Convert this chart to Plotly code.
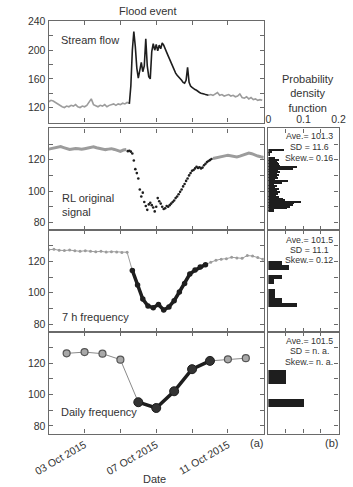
import plotly.graph_objects as go
import pandas as pd

W, H = 353, 487
START = pd.Timestamp("2015-10-01")

# ---------------- data ----------------
# Stream flow (panel 1): gray before event, black during event, gray after
flow_pre_start_h, flow_pre_step_h = 0, 3
flow_pre = [128, 130, 129, 127, 125, 122, 121, 120, 122, 121, 123, 122, 124, 121, 120, 122,
            121, 123, 127, 132, 124, 122, 121, 123, 122, 124, 121, 123, 124, 125, 123, 125,
            124, 126, 125, 127, 126]
flow_event_start_h, flow_event_step_h = 108, 2
flow_event = [125, 150, 200, 226, 205, 175, 161, 172, 183, 170, 178, 216, 178, 163, 160, 198,
              209, 200, 208, 199, 207, 202, 210, 207, 203, 197, 192, 187, 183, 179, 172, 168,
              165, 163, 160, 158, 155, 154, 158, 176, 155, 150, 148, 146, 145, 144, 142, 141,
              140, 140, 139, 138, 138, 137]
flow_post_start_h, flow_post_step_h = 214, 3
flow_post = [137, 138, 137, 139, 141, 137, 138, 136, 137, 138, 136, 137, 135, 136, 139, 134,
             133, 135, 132, 134, 131, 132, 130, 131, 130]

# RL original signal (panel 2)
rl_pre_start_h, rl_pre_step_h = 0, 4
rl_pre = [126.8, 127.2, 127.5, 128.0, 128.4, 127.8, 127.0, 126.6, 126.9, 127.2, 127.0, 126.7,
          127.1, 127.6, 128.1, 128.3, 127.7, 127.2, 126.9, 126.5, 126.8, 127.1, 126.6, 126.0,
          125.4, 126.2, 126.5]
rl_event_start_h, rl_event_step_h = 106, 2
rl_event = [125.5, 125.8, 125.2, 124.0, 119.5, 114.0, 111.5, 108.0, 101.0, 96.5, 99.0, 93.0,
            90.5, 88.0, 91.5, 92.5, 91.0, 89.5, 87.0, 90.0, 95.5, 93.5, 92.0, 90.0, 88.5, 89.0,
            90.5, 90.0, 91.0, 92.0, 93.0, 94.0, 95.5, 96.5, 98.0, 99.5, 101.0, 103.0, 104.5,
            106.5, 108.0, 110.0, 111.5, 113.0, 113.5, 114.5, 115.5, 114.8, 115.2, 114.5, 115.0,
            116.5, 117.5, 118.5, 119.2, 119.8, 120.5]
rl_post_start_h, rl_post_step_h = 220, 4
rl_post = [120.8, 121.3, 121.7, 122.0, 122.5, 122.8, 122.6, 122.2, 121.8, 122.3, 123.0, 123.8,
           124.3, 123.9, 123.0, 122.4, 121.9, 121.5]

# 7 h frequency (panel 3)
h7_step_h = 7
h7_values = [127.5, 127.8, 127.2, 127.0, 127.3, 126.8, 126.5, 126.9, 126.6, 126.2, 126.5, 126.0,
             126.3, 126.1, 125.8, 125.9,
             114.3, 105.0, 96.0, 91.5, 90.5, 92.5, 89.0, 91.0, 95.0, 100.5, 106.0, 112.0, 114.5,
             116.5, 118.0,
             119.5, 120.8, 121.5, 121.8, 122.7, 122.3, 122.0, 123.8, 123.5, 122.5, 121.5]
h7_event_first, h7_event_last = 16, 30

# Daily frequency (panel 4)
daily_dates = ["2015-10-02", "2015-10-03", "2015-10-04", "2015-10-05", "2015-10-06",
               "2015-10-07", "2015-10-08", "2015-10-09", "2015-10-10", "2015-10-11",
               "2015-10-12"]
daily_values = [126.3, 127.1, 126.1, 122.3, 95.1, 91.4, 102.1, 116.2, 121.5, 122.5, 123.2]
daily_event_first, daily_event_last = 4, 8

# PDFs (panel b)
pdf2_centers = [126, 125, 124, 123, 121, 120, 119, 118, 117, 116, 115, 114, 113, 112, 111, 110,
                109, 108, 107, 106, 105, 104, 103, 102, 101, 100, 99, 98, 97, 96, 95, 94, 93,
                92, 91, 90, 89, 88, 87]
pdf2_density = [0.046, 0.010, 0.005, 0.004, 0.020, 0.030, 0.026, 0.028, 0.030, 0.035, 0.084,
                0.072, 0.028, 0.034, 0.027, 0.030, 0.026, 0.028, 0.020, 0.058, 0.040, 0.018,
                0.025, 0.020, 0.030, 0.025, 0.033, 0.028, 0.022, 0.030, 0.044, 0.048, 0.093,
                0.073, 0.070, 0.062, 0.053, 0.018, 0.016]
pdf2_binwidth = 1.0
pdf3_centers = [119, 116, 110, 107, 101, 98, 95, 92]
pdf3_density = [0.040, 0.060, 0.040, 0.018, 0.020, 0.020, 0.040, 0.082]
pdf3_binwidth = 3.0
pdf4_lo = [107.0, 92.0]
pdf4_hi = [115.5, 97.0]
pdf4_density = [0.052, 0.103]

stats2 = ["Ave.= 101.3", "SD = 11.6", "Skew.= 0.16"]
stats3 = ["Ave.= 101.5", "SD = 11.1", "Skew.= 0.12"]
stats4 = ["Ave.= 101.5", "SD = n. a.", "Skew.= n. a."]

# ---------------- helpers ----------------
def times(start_h, step_h, n):
    return [START + pd.Timedelta(hours=start_h + i * step_h) for i in range(n)]

def xd(a, b):
    return [a / W, b / W]

def yd(top, bottom):
    return [1 - bottom / H, 1 - top / H]

GRAY = "#9c9c9c"
BLACK = "#1e1e1e"
AX = "#6a6a6a"
TXT = "#333333"
FONT = "Liberation Sans, Arial, sans-serif"

fig = go.Figure()

# panel 1
fig.add_trace(go.Scatter(x=times(flow_pre_start_h, flow_pre_step_h, len(flow_pre)), y=flow_pre,
                         mode="lines", line=dict(color=GRAY, width=1.6), xaxis="x", yaxis="y"))
fig.add_trace(go.Scatter(x=times(flow_post_start_h, flow_post_step_h, len(flow_post)), y=flow_post,
                         mode="lines", line=dict(color=GRAY, width=1.6), xaxis="x", yaxis="y"))
fig.add_trace(go.Scatter(x=times(flow_event_start_h, flow_event_step_h, len(flow_event)), y=flow_event,
                         mode="lines", line=dict(color=BLACK, width=1.6), xaxis="x", yaxis="y"))

# panel 2
fig.add_trace(go.Scatter(x=times(rl_pre_start_h, rl_pre_step_h, len(rl_pre)), y=rl_pre,
                         mode="lines", line=dict(color=GRAY, width=3), xaxis="x2", yaxis="y2"))
fig.add_trace(go.Scatter(x=times(rl_post_start_h, rl_post_step_h, len(rl_post)), y=rl_post,
                         mode="lines", line=dict(color=GRAY, width=3), xaxis="x2", yaxis="y2"))
fig.add_trace(go.Scatter(x=times(rl_event_start_h, rl_event_step_h, len(rl_event)), y=rl_event,
                         mode="markers", marker=dict(color=BLACK, size=2.6), xaxis="x2", yaxis="y2"))

# panel 3
h7_t = times(0, h7_step_h, len(h7_values))
fig.add_trace(go.Scatter(x=h7_t, y=h7_values, mode="lines+markers",
                         line=dict(color=GRAY, width=1),
                         marker=dict(color=GRAY, size=3, symbol="circle"),
                         xaxis="x3", yaxis="y3"))
fig.add_trace(go.Scatter(x=h7_t[h7_event_first:h7_event_last + 1],
                         y=h7_values[h7_event_first:h7_event_last + 1],
                         mode="lines+markers", line=dict(color=BLACK, width=3.5),
                         marker=dict(color=BLACK, size=5.5), xaxis="x3", yaxis="y3"))

# panel 4
fig.add_trace(go.Scatter(x=daily_dates, y=daily_values, mode="lines+markers",
                         line=dict(color="#8a8a8a", width=1),
                         marker=dict(color="#a8a8a8", size=7, line=dict(color="#555", width=1.2)),
                         xaxis="x4", yaxis="y4"))
fig.add_trace(go.Scatter(x=daily_dates[daily_event_first:daily_event_last + 1],
                         y=daily_values[daily_event_first:daily_event_last + 1],
                         mode="lines+markers", line=dict(color=BLACK, width=3.5),
                         marker=dict(color="#333", size=9, line=dict(color=BLACK, width=1)),
                         xaxis="x4", yaxis="y4"))

# pdfs
fig.add_trace(go.Bar(y=pdf2_centers, x=pdf2_density, orientation="h", width=pdf2_binwidth,
                     marker=dict(color=BLACK, line=dict(width=0)), xaxis="x5", yaxis="y5"))
fig.add_trace(go.Bar(y=pdf3_centers, x=pdf3_density, orientation="h", width=pdf3_binwidth,
                     marker=dict(color=BLACK, line=dict(width=0)), xaxis="x6", yaxis="y6"))
fig.add_trace(go.Bar(y=[(a + b) / 2 for a, b in zip(pdf4_lo, pdf4_hi)], x=pdf4_density,
                     orientation="h", width=[b - a for a, b in zip(pdf4_lo, pdf4_hi)],
                     marker=dict(color=BLACK, line=dict(width=0)), xaxis="x7", yaxis="y7"))

common = dict(showline=True, linecolor=AX, linewidth=1.4, mirror="ticks", ticks="inside",
              ticklen=4, tickwidth=1, tickcolor=AX, showgrid=False, zeroline=False,
              tickfont=dict(size=10.5, color=TXT, family=FONT))

date_range = [START, START + pd.Timedelta(days=12)]
panel_rows = {1: (15, 118), 2: (124, 227), 3: (227, 330), 4: (330, 433)}

layout = dict(width=W, height=H, margin=dict(l=0, r=0, t=0, b=0), showlegend=False,
              plot_bgcolor="white", paper_bgcolor="white", bargap=0,
              font=dict(family=FONT, color=TXT))

for i in range(1, 5):
    xs = "" if i == 1 else str(i)
    top, bot = panel_rows[i]
    layout["xaxis" + xs] = dict(common, domain=xd(35, 265), anchor="y" + xs, type="date",
                                range=date_range, tick0="2015-10-03", dtick=4 * 86400000,
                                minor=dict(dtick=2 * 86400000, ticks="inside", ticklen=4,
                                           tickcolor=AX, showgrid=False),
                                showticklabels=(i == 4), tickformat="%d %b %Y", tickangle=-30)
    if i == 1:
        layout["yaxis"] = dict(common, domain=yd(top, bot), anchor="x", range=[99, 241],
                               tickmode="array", tickvals=[120, 160, 200, 240],
                               minor=dict(tickmode="array", tickvals=[100, 140, 180, 220],
                                          ticks="inside", ticklen=4, tickcolor=AX))
    else:
        layout["yaxis" + xs] = dict(common, domain=yd(top, bot), anchor="x" + xs, range=[75, 140],
                                    tickmode="array", tickvals=[80, 100, 120],
                                    minor=dict(tickmode="array", tickvals=[90, 110, 130],
                                               ticks="inside", ticklen=4, tickcolor=AX))

for j, i in zip((5, 6, 7), (2, 3, 4)):
    top, bot = panel_rows[i]
    layout["xaxis%d" % j] = dict(common, domain=xd(270, 345), anchor="y%d" % j, range=[0, 0.2],
                                 tickmode="array", tickvals=[0, 0.1, 0.2],
                                 ticktext=["0", "0.1", "0.2"],
                                 minor=dict(tickmode="array", tickvals=[0.05, 0.15],
                                            ticks="inside", ticklen=4, tickcolor=AX),
                                 side="top" if j == 5 else "bottom",
                                 showticklabels=(j == 5))
    layout["yaxis%d" % j] = dict(common, domain=yd(top, bot), anchor="x%d" % j, range=[75, 140],
                                 side="right", mirror=True, tickmode="array",
                                 tickvals=[80, 90, 100, 110, 120, 130], showticklabels=False)

fig.update_layout(**layout)

def ann(text, x, y, size=11, xanchor="left", align="left"):
    fig.add_annotation(text=text, x=x / W, y=1 - y / H, xref="paper", yref="paper",
                       xanchor=xanchor, yanchor="middle", showarrow=False, align=align,
                       font=dict(size=size, color=TXT, family=FONT))

ann("Flood event", 141, 5, size=11, xanchor="center", align="center")
ann("Stream flow", 46, 34, size=11)
ann("RL original<br>signal", 47, 201.5, size=11)
ann("7 h frequency", 47, 315, size=11)
ann("Daily frequency", 46, 411.5, size=11)
ann("Probability<br>density<br>function", 312, 88.5, size=11, xanchor="center", align="center")
for lines, ys in ((stats2, (131.7, 142.5, 154.3)), (stats3, (236.5, 246.8, 257.3)),
                  (stats4, (339.5, 349.7, 360.5))):
    for k, (t, yy) in enumerate(zip(lines, ys)):
        if k == 1:
            ann(t, 290.5, yy, size=8.8, xanchor="left")
        else:
            ann(t, 341.5, yy, size=8.8, xanchor="right", align="right")
ann("(a)", 257, 442.5, size=11, xanchor="center")
ann("(b)", 337, 442.5, size=11, xanchor="center")
ann("Date", 148, 479, size=11, xanchor="center")

fig.write_html("out.html")
